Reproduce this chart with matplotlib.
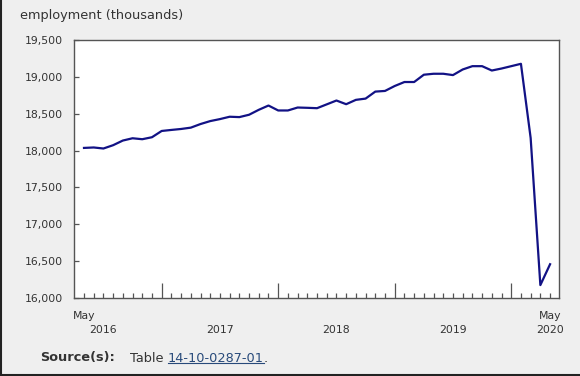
import matplotlib
matplotlib.use("Agg")
import matplotlib.pyplot as plt
from matplotlib.transforms import blended_transform_factory
from matplotlib.lines import Line2D

# ---- data ----
employment = [18036, 18042, 18028, 18073, 18136, 18167, 18154, 18181,
              18266, 18280, 18293, 18311, 18360, 18400, 18427, 18459,
              18454, 18486, 18553, 18611, 18544, 18544, 18584, 18580,
              18575, 18627, 18679, 18629, 18688, 18705, 18800, 18809,
              18876, 18930, 18930, 19029, 19042, 19042, 19024, 19100,
              19145, 19145, 19086, 19113, 19145, 19177, 18171, 16175,
              16458]
y_ticks = [16000, 16500, 17000, 17500, 18000, 18500, 19000, 19500]
year_labels = ["2016", "2017", "2018", "2019", "2020"]
year_label_pos = [2, 14, 26, 38, 48]
year_tick_pos = [8, 20, 32, 44]
month_labels = ["May", "May"]
month_label_pos = [0, 48]

BG = "#efefef"
TXT = "#333333"
LINE = "#121285"

fig = plt.figure(figsize=(5.8, 3.76), dpi=100, facecolor=BG)
ax = fig.add_axes([74/580, 1-298/376, (559-74)/580, (298-40)/376])
ax.set_facecolor("white")

x = list(range(len(employment)))
ax.plot(x, employment, color=LINE, lw=1.6, solid_joinstyle="round", clip_on=False)

ax.set_xlim(-1.03, 48.92)
ax.set_ylim(16000, 19500)

for s in ax.spines.values():
    s.set_color("#555555")
    s.set_linewidth(1.0)

ax.set_yticks(y_ticks)
ax.set_yticklabels([f"{v:,}" for v in y_ticks], fontsize=7.8, color=TXT)
ax.tick_params(axis="y", direction="in", length=3.6, width=0.9, color="#555555", pad=8)

ax.set_xticks(x, minor=True)
ax.set_xticks(year_tick_pos)
ax.set_xticklabels([])
ax.tick_params(axis="x", which="minor", direction="in", length=3.6, width=0.9, color="#555555")
ax.tick_params(axis="x", which="major", direction="in", length=10.8, width=0.9, color="#555555")

tr = blended_transform_factory(ax.transData, fig.transFigure)
for p, lab in zip(month_label_pos, month_labels):
    ax.text(p, 1-316/376, lab, transform=tr, ha="center", va="center", fontsize=7.8, color=TXT)
for p, lab in zip(year_label_pos, year_labels):
    ax.text(p, 1-330/376, lab, transform=tr, ha="center", va="center", fontsize=7.8, color=TXT)

fig.text(20/580, 1-15/376, "employment (thousands)", ha="left", va="center",
         fontsize=9.3, color=TXT)

ys = 1-358/376
t1 = fig.text(40/580, ys, "Source(s):", ha="left", va="center", fontsize=9.3,
              fontweight="bold", color=TXT)
t2 = fig.text(130/580, ys, "Table ", ha="left", va="center", fontsize=9.3, color=TXT)
fig.canvas.draw()
r = fig.canvas.get_renderer()
e2 = t2.get_window_extent(r)
t3 = fig.text(e2.x1/580, ys, "14-10-0287-01", ha="left", va="center", fontsize=9.3,
              color="#284a7a")
fig.canvas.draw()
e3 = t3.get_window_extent(r)
t4 = fig.text(e3.x1/580, ys, ".", ha="left", va="center", fontsize=9.3, color=TXT)
uy = (e3.y0 + 1.5)/376
fig.add_artist(Line2D([e3.x0/580, e3.x1/580], [uy, uy], transform=fig.transFigure,
                      color="#284a7a", lw=0.8))

# outer frame (left and bottom visible)
fig.add_artist(Line2D([0.5/580, 0.5/580], [0, 1], transform=fig.transFigure, color="#222222", lw=1.5))
fig.add_artist(Line2D([0, 1], [1.2/376, 1.2/376], transform=fig.transFigure, color="#222222", lw=1.5))

fig.savefig("out.png", dpi=100, facecolor=BG)
